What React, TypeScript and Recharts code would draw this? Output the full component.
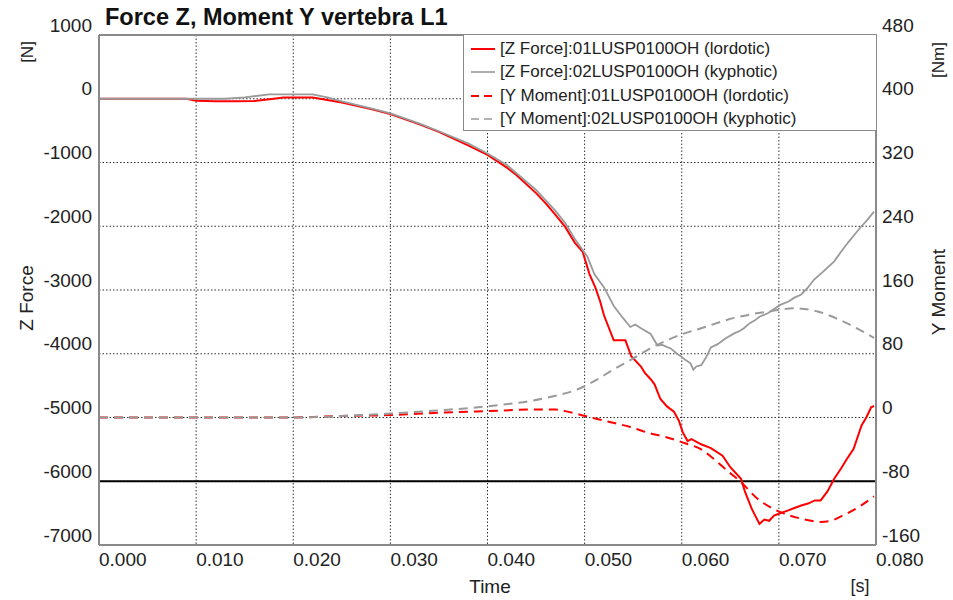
import React from 'react';
import { LineChart, Line, XAxis, YAxis, CartesianGrid, ReferenceLine, Legend } from 'recharts';

// Time axis [s]
const timeTicks = [0, 0.01, 0.02, 0.03, 0.04, 0.05, 0.06, 0.07, 0.08];
const forceTicks = [-7000, -6000, -5000, -4000, -3000, -2000, -1000, 0, 1000];
const momentTicks = [-160, -80, 0, 80, 160, 240, 320, 400, 480];

// [Z Force]:01LUSP0100OH (lordotic) [N]
const zForce01T = [0, 0.009, 0.01, 0.012, 0.014, 0.016, 0.018, 0.019, 0.022, 0.0235, 0.025, 0.028, 0.03, 0.033, 0.035, 0.038, 0.04, 0.042, 0.043, 0.045, 0.046, 0.047, 0.048, 0.049, 0.0498, 0.0505, 0.0511, 0.0516, 0.052, 0.053, 0.0542, 0.0548, 0.0558, 0.0562, 0.0568, 0.0572, 0.0578, 0.0585, 0.0592, 0.0597, 0.0601, 0.0606, 0.061, 0.062, 0.063, 0.0642, 0.065, 0.0661, 0.0665, 0.0672, 0.068, 0.0685, 0.069, 0.0695, 0.07, 0.0709, 0.0716, 0.0723, 0.073, 0.0737, 0.0743, 0.075, 0.0757, 0.0764, 0.077, 0.0777, 0.0785, 0.079, 0.0795, 0.0798];
const zForce01V = [0, 0, -30, -40, -40, -35, 0, 20, 20, -20, -60, -160, -240, -400, -520, -730, -880, -1080, -1200, -1480, -1640, -1820, -2010, -2260, -2400, -2750, -2960, -3180, -3400, -3790, -3790, -4040, -4200, -4300, -4400, -4480, -4710, -4830, -4910, -5050, -5230, -5370, -5340, -5420, -5480, -5600, -5780, -5960, -6160, -6430, -6670, -6600, -6620, -6540, -6510, -6460, -6420, -6380, -6350, -6300, -6300, -6160, -5960, -5800, -5650, -5490, -5130, -5000, -4840, -4820];

// [Z Force]:02LUSP0100OH (kyphotic) [N]
const zForce02T = [0, 0.01, 0.013, 0.015, 0.0175, 0.022, 0.0235, 0.025, 0.028, 0.03, 0.033, 0.035, 0.038, 0.04, 0.042, 0.045, 0.047, 0.048, 0.049, 0.0503, 0.051, 0.052, 0.053, 0.054, 0.0547, 0.0552, 0.0558, 0.0568, 0.0575, 0.058, 0.0589, 0.0595, 0.0599, 0.0604, 0.0609, 0.0612, 0.0615, 0.062, 0.0625, 0.063, 0.0637, 0.0645, 0.0654, 0.066, 0.0664, 0.067, 0.0675, 0.068, 0.0689, 0.0695, 0.0702, 0.071, 0.0716, 0.0723, 0.073, 0.0736, 0.0745, 0.0757, 0.0764, 0.0771, 0.0778, 0.0785, 0.079, 0.0798];
const zForce02V = [0, 0, 0, 20, 70, 70, 20, -40, -150, -230, -390, -510, -700, -860, -1040, -1430, -1760, -1950, -2200, -2480, -2750, -2960, -3250, -3450, -3580, -3540, -3600, -3690, -3870, -3860, -3920, -4000, -4040, -4100, -4150, -4250, -4200, -4180, -4060, -3900, -3850, -3760, -3680, -3640, -3600, -3520, -3480, -3420, -3360, -3300, -3230, -3180, -3120, -3070, -2960, -2840, -2720, -2550, -2400, -2260, -2130, -2000, -1920, -1770];

// [Y Moment]:01LUSP0100OH (lordotic) [Nm]
const yMoment01T = [0, 0.02, 0.025, 0.03, 0.035, 0.04, 0.045, 0.047, 0.048, 0.05, 0.052, 0.0547, 0.0565, 0.0585, 0.0605, 0.062, 0.063, 0.0647, 0.0661, 0.0678, 0.0695, 0.0723, 0.0743, 0.0755, 0.0764, 0.0784, 0.0798];
const yMoment01V = [0, 0, 2, 3, 6, 8, 10, 10, 8, 2, -4, -12, -19, -25, -33, -40, -49, -67, -81, -102, -115, -127, -131, -129, -124, -111, -99];

// [Y Moment]:02LUSP0100OH (kyphotic) [Nm]
const yMoment02T = [0, 0.02, 0.025, 0.03, 0.035, 0.04, 0.0462, 0.0496, 0.0516, 0.0524, 0.0547, 0.0565, 0.0585, 0.0599, 0.062, 0.0654, 0.0689, 0.0715, 0.074, 0.0767, 0.0798];
const yMoment02V = [0, 0, 2, 5, 9, 14, 25, 37, 50, 56, 72, 85, 97, 104, 112, 125, 133, 137, 133, 120, 100];

const toPoints = (t: number[], v: number[]) => t.map((x, i) => ({ t: x, v: v[i] }));

const zForce01 = toPoints(zForce01T, zForce01V);
const zForce02 = toPoints(zForce02T, zForce02V);
const yMoment01 = toPoints(yMoment01T, yMoment01V);
const yMoment02 = toPoints(yMoment02T, yMoment02V);

const FONT = '"Liberation Sans", Arial, Helvetica, sans-serif';
const RED = '#ff0000';
const GREY = '#9a9a9a';
const FRAME = '#8a8a8a';

const legendRows = [
  { label: '[Z Force]:01LUSP0100OH (lordotic)', color: RED, dash: undefined },
  { label: '[Z Force]:02LUSP0100OH (kyphotic)', color: GREY, dash: undefined },
  { label: '[Y Moment]:01LUSP0100OH (lordotic)', color: RED, dash: '8 5' },
  { label: '[Y Moment]:02LUSP0100OH (kyphotic)', color: GREY, dash: '8 5' },
];

const LeftTick = (props: any) => (
  <text x={92} y={props.y - 10} textAnchor="end" dominantBaseline="central" fontSize={19} fill="#222" fontFamily={FONT}>
    {props.payload.value}
  </text>
);

const RightTick = (props: any) => (
  <text x={882} y={props.y - 10} textAnchor="start" dominantBaseline="central" fontSize={19} fill="#222" fontFamily={FONT}>
    {props.payload.value}
  </text>
);

const TimeTick = (props: any) => (
  <text x={props.x} y={559} textAnchor="start" dominantBaseline="central" fontSize={19} fill="#222" fontFamily={FONT}>
    {Number(props.payload.value).toFixed(3)}
  </text>
);

const LegendBox = () => (
  <div
    style={{
      boxSizing: 'border-box',
      width: 414,
      height: 97,
      background: '#fff',
      border: `1.5px solid ${FRAME}`,
      padding: '2px 0 0 5px',
      fontFamily: FONT,
      fontSize: 17,
      color: '#222',
    }}
  >
    {legendRows.map((r) => (
      <div key={r.label} style={{ display: 'flex', alignItems: 'center', height: 23.5, whiteSpace: 'nowrap' }}>
        <svg width={30} height={10} style={{ marginRight: 1 }}>
          <line x1={2} y1={5} x2={26} y2={5} stroke={r.color} strokeWidth={r.color === RED ? 2 : 1.6} strokeDasharray={r.dash} />
        </svg>
        <span>{r.label}</span>
      </div>
    ))}
  </div>
);

const App: React.FC = () => {
  return (
    <div style={{ position: 'absolute', left: 0, top: 0, width: 953, height: 600, background: '#fff', fontFamily: FONT }}>
      <LineChart width={953} height={600} margin={{ top: 35, right: 0, bottom: 0, left: 0 }}>
        <CartesianGrid yAxisId="left" stroke="#333" strokeDasharray="1.5 2" horizontalValues={forceTicks} verticalValues={timeTicks} />
        <XAxis
          type="number"
          dataKey="t"
          domain={[0, 0.08]}
          ticks={timeTicks}
          allowDataOverflow
          height={55}
          tick={TimeTick}
          tickLine={false}
          axisLine={{ stroke: FRAME, strokeWidth: 2 }}
        />
        <YAxis
          yAxisId="left"
          type="number"
          domain={[-7000, 1000]}
          ticks={forceTicks}
          allowDataOverflow
          width={99}
          tick={LeftTick}
          tickLine={false}
          axisLine={{ stroke: FRAME, strokeWidth: 2 }}
        />
        <YAxis
          yAxisId="right"
          orientation="right"
          type="number"
          domain={[-160, 480]}
          ticks={momentTicks}
          allowDataOverflow
          width={77}
          tick={RightTick}
          tickLine={false}
          axisLine={{ stroke: FRAME, strokeWidth: 2 }}
        />
        <ReferenceLine yAxisId="left" y={1000} stroke={FRAME} strokeWidth={2} />
        <ReferenceLine yAxisId="left" y={-6000} stroke="#000" strokeWidth={2} />
        <Line yAxisId="left" data={zForce01} dataKey="v" type="linear" stroke={RED} strokeWidth={2} dot={false} isAnimationActive={false} />
        <Line yAxisId="left" data={zForce02} dataKey="v" type="linear" stroke={GREY} strokeWidth={1.8} dot={false} isAnimationActive={false} />
        <Line yAxisId="right" data={yMoment01} dataKey="v" type="monotone" stroke={RED} strokeWidth={2} strokeDasharray="9 6" dot={false} isAnimationActive={false} />
        <Line yAxisId="right" data={yMoment02} dataKey="v" type="monotone" stroke={GREY} strokeWidth={2} strokeDasharray="9 6" dot={false} isAnimationActive={false} />
        <Legend
          layout="vertical"
          align="center"
          verticalAlign="middle"
          content={LegendBox}
          wrapperStyle={{ left: 463, top: 34, width: 414, height: 97 }}
        />
      </LineChart>
      <svg width={953} height={600} style={{ position: 'absolute', left: 0, top: 0, pointerEvents: 'none' }}>
        <g fontFamily={FONT} fill="#111">
          <text x={105} y={17} dominantBaseline="central" fontSize={23.5} fontWeight="bold">
            Force Z, Moment Y vertebra L1
          </text>
          <text transform="translate(27,52) rotate(-90)" textAnchor="middle" dominantBaseline="central" fontSize={17} fill="#222">
            [N]
          </text>
          <text transform="translate(26,298) rotate(-90)" textAnchor="middle" dominantBaseline="central" fontSize={19} fill="#222">
            Z Force
          </text>
          <text transform="translate(938,60) rotate(-90)" textAnchor="middle" dominantBaseline="central" fontSize={17} fill="#222">
            [Nm]
          </text>
          <text transform="translate(938,292) rotate(-90)" textAnchor="middle" dominantBaseline="central" fontSize={19} fill="#222">
            Y Moment
          </text>
          <text x={490} y={586} textAnchor="middle" dominantBaseline="central" fontSize={19} fill="#222">
            Time
          </text>
          <text x={860} y={586} textAnchor="middle" dominantBaseline="central" fontSize={18} fill="#222">
            [s]
          </text>
        </g>
      </svg>
    </div>
  );
};

export default App;
